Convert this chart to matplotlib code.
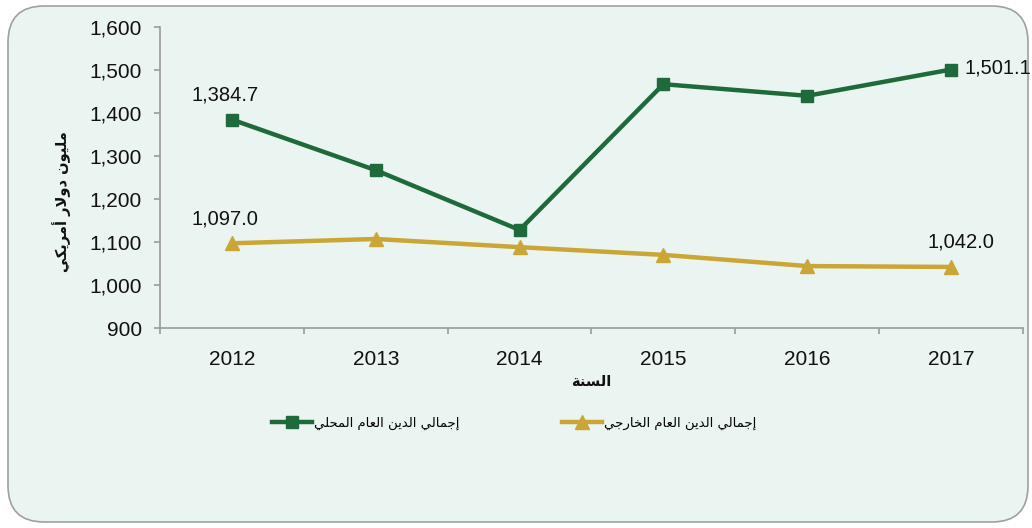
import matplotlib
matplotlib.use("Agg")
import matplotlib.pyplot as plt
from matplotlib.patches import FancyBboxPatch
from matplotlib.ticker import FuncFormatter, FixedLocator

years = ["2012", "2013", "2014", "2015", "2016", "2017"]
domestic = [1384.7, 1267, 1128, 1467, 1440, 1501.1]
external = [1097.0, 1107, 1088, 1070, 1044, 1042.0]
domestic_name = "إجمالي الدين العام المحلي"
external_name = "إجمالي الدين العام الخارجي"
y_title = "مليون دولار أمريكي"
x_title = "السنة"
domestic_labels = {0: "1,384.7", 5: "1,501.1"}
external_labels = {0: "1,097.0", 5: "1,042.0"}

# ---- minimal Arabic shaping (presentation forms) + visual reordering ----
FORMS = {
    'ا': ('\uFE8D', '\uFE8E', None, None),
    'أ': ('\uFE83', '\uFE84', None, None),
    'إ': ('\uFE87', '\uFE88', None, None),
    'ة': ('\uFE93', '\uFE94', None, None),
    'ج': ('\uFE9D', '\uFE9E', '\uFE9F', '\uFEA0'),
    'ح': ('\uFEA1', '\uFEA2', '\uFEA3', '\uFEA4'),
    'خ': ('\uFEA5', '\uFEA6', '\uFEA7', '\uFEA8'),
    'د': ('\uFEA9', '\uFEAA', None, None),
    'ر': ('\uFEAD', '\uFEAE', None, None),
    'س': ('\uFEB1', '\uFEB2', '\uFEB3', '\uFEB4'),
    'ع': ('\uFEC9', '\uFECA', '\uFECB', '\uFECC'),
    'ك': ('\uFED9', '\uFEDA', '\uFEDB', '\uFEDC'),
    'ل': ('\uFEDD', '\uFEDE', '\uFEDF', '\uFEE0'),
    'م': ('\uFEE1', '\uFEE2', '\uFEE3', '\uFEE4'),
    'ن': ('\uFEE5', '\uFEE6', '\uFEE7', '\uFEE8'),
    'و': ('\uFEED', '\uFEEE', None, None),
    'ي': ('\uFEF1', '\uFEF2', '\uFEF3', '\uFEF4'),
    '\uFEFB': ('\uFEFB', '\uFEFC', None, None),
    '\uFEF7': ('\uFEF7', '\uFEF8', None, None),
    '\uFEF9': ('\uFEF9', '\uFEFA', None, None),
}
LAM_ALEF = {'ا': '\uFEFB', 'أ': '\uFEF7', 'إ': '\uFEF9'}


def shape(s):
    chars = []
    i = 0
    while i < len(s):
        c = s[i]
        if c == 'ل' and i + 1 < len(s) and s[i + 1] in LAM_ALEF:
            chars.append(LAM_ALEF[s[i + 1]])
            i += 2
        else:
            chars.append(c)
            i += 1
    res = []
    for k, c in enumerate(chars):
        if c not in FORMS:
            res.append(c)
            continue
        f = FORMS[c]
        prev = chars[k - 1] if k > 0 else None
        nxt = chars[k + 1] if k + 1 < len(chars) else None
        jp = prev in FORMS and FORMS[prev][2] is not None
        jn = nxt in FORMS and f[2] is not None
        if jp and jn:
            res.append(f[3])
        elif jp:
            res.append(f[1])
        elif jn:
            res.append(f[2])
        else:
            res.append(f[0])
    return ''.join(reversed(res))


plt.rcParams['font.family'] = ['Liberation Sans', 'DejaVu Sans']

GREEN = '#1E6A3B'
GOLD = '#C9A635'
BG = '#EAF4F0'
SPINE = '#9A9A9A'
TXT = '#111111'

fig = plt.figure(figsize=(10.32, 5.28), dpi=100, facecolor='white')
panel = FancyBboxPatch((8 / 1032, 6 / 528), 1020 / 1032, 516 / 528,
                       boxstyle="round,pad=0,rounding_size=0.035",
                       transform=fig.transFigure, facecolor=BG,
                       edgecolor='#A0A0A0', linewidth=1.2, zorder=-5,
                       mutation_aspect=1032 / 528)
fig.patches.append(panel)

ax = fig.add_axes([160 / 1032, 1 - 328 / 528, (1023 - 160) / 1032, (328 - 27) / 528])
ax.set_zorder(2)
ax.set_facecolor('none')

x = list(range(len(years)))
ax.plot(x, domestic, color=GREEN, lw=3.2, marker='s', ms=9, zorder=3,
        label=shape(domestic_name))
ax.plot(x, external, color=GOLD, lw=3.2, marker='^', ms=10, zorder=3,
        label=shape(external_name))

ax.set_xlim(-0.5, len(years) - 0.5)
ax.set_ylim(900, 1600)
ax.yaxis.set_major_locator(FixedLocator(range(900, 1601, 100)))
ax.yaxis.set_major_formatter(FuncFormatter(lambda v, p: f"{int(v):,}"))
ax.set_xticks(x)
ax.set_xticklabels(years)
ax.xaxis.set_minor_locator(FixedLocator([i - 0.5 for i in range(len(years) + 1)]))
ax.tick_params(axis='x', which='major', length=0, pad=16, labelsize=15, colors=TXT)
ax.tick_params(axis='x', which='minor', length=4, color=SPINE, width=1.2)
ax.tick_params(axis='y', length=4, color=SPINE, width=1.2, pad=9, labelsize=15,
               labelcolor=TXT)
for s in ('top', 'right'):
    ax.spines[s].set_visible(False)
for s in ('left', 'bottom'):
    ax.spines[s].set_color(SPINE)
    ax.spines[s].set_linewidth(1.2)

for i, t in domestic_labels.items():
    if i == 0:
        ax.annotate(t, (x[i], domestic[i]), xytext=(-5, 11), textcoords='offset points',
                    ha='center', va='bottom', fontsize=14.5, color=TXT)
    else:
        ax.annotate(t, (x[i], domestic[i]), xytext=(10, 1), textcoords='offset points',
                    ha='left', va='center', fontsize=14.5, color=TXT)
for i, t in external_labels.items():
    dx = -5 if i == 0 else 7
    ax.annotate(t, (x[i], external[i]), xytext=(dx, 11), textcoords='offset points',
                ha='center', va='bottom', fontsize=14.5, color=TXT)

fig.text(591 / 1032, 1 - 381 / 528, shape(x_title), family=['DejaVu Sans'],
         fontsize=10.5, fontweight='bold', ha='center', va='center', color=TXT)
fig.text(62 / 1032, 1 - 202 / 528, shape(y_title), family=['DejaVu Sans'],
         fontsize=10.5, fontweight='bold', ha='center', va='center', rotation=90,
         color=TXT)

leg = fig.legend(loc='center', bbox_to_anchor=(514 / 1032, 1 - 423 / 528), ncol=2,
                 frameon=False, prop={'family': 'DejaVu Sans', 'size': 9.5},
                 handlelength=3.0, handletextpad=0.15, columnspacing=7.8)

fig.savefig('out.png', dpi=100, facecolor='white')
